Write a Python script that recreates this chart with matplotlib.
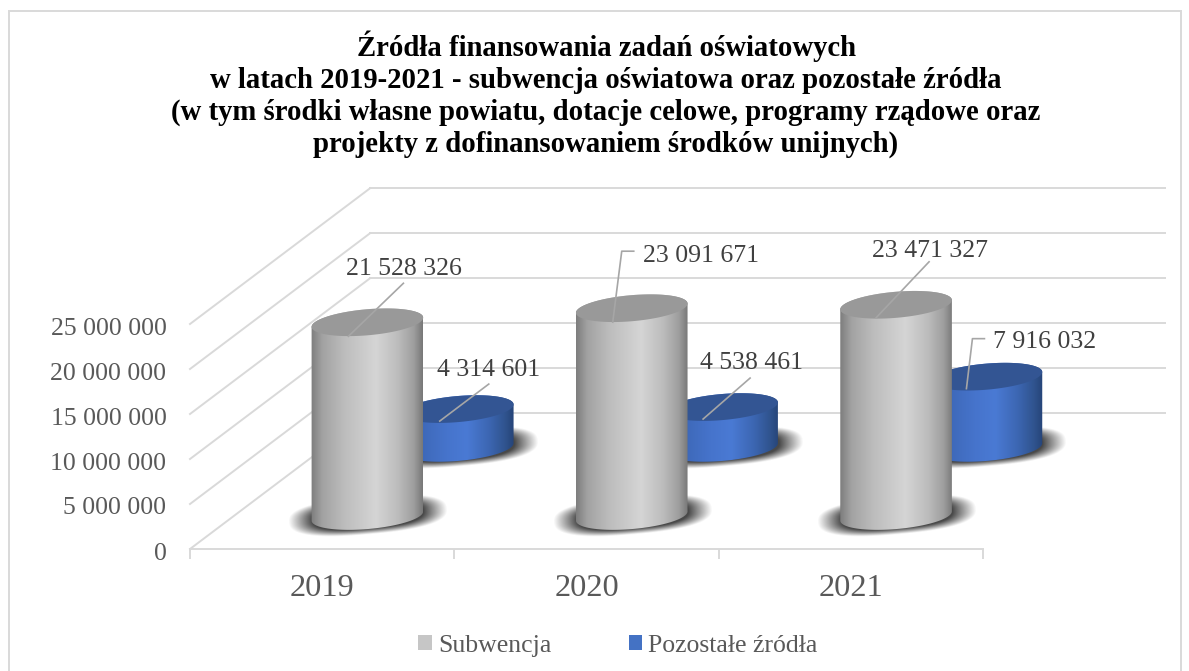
import numpy as np
import matplotlib
matplotlib.use("Agg")
import matplotlib.pyplot as plt
from matplotlib.colors import LinearSegmentedColormap
from matplotlib.patches import Patch, Polygon, Rectangle
from matplotlib.transforms import ScaledTranslation

years = ["2019", "2020", "2021"]
subwencja = [21528326, 23091671, 23471327]
pozostale = [4314601, 4538461, 7916032]
value_ticks = [0, 5000000, 10000000, 15000000, 20000000, 25000000]
title = ("Źródła finansowania zadań oświatowych\n"
         "w latach 2019-2021 - subwencja oświatowa oraz pozostałe źródła\n"
         "(w tym środki własne powiatu, dotacje celowe, programy rządowe oraz\n"
         "projekty z dofinansowaniem środków unijnych)")

W, H = 1189, 671
LEFT, RIGHT, BOTTOM, TOP = 190, 983, 549, 324  # plot box in pixels

plt.rcParams["font.family"] = ["Liberation Serif", "DejaVu Serif"]

fig = plt.figure(figsize=(W / 100, H / 100), dpi=100, facecolor="white")
ax = fig.add_axes([LEFT / W, 1 - BOTTOM / H, (RIGHT - LEFT) / W, (BOTTOM - TOP) / H])
ax.set_xlim(0, 3)
ax.set_ylim(0, 25000000)
ax.set_autoscale_on(False)
ax.patch.set_visible(False)

# size of one pixel in data units
PX = 3 / (RIGHT - LEFT)
PY = 25000000 / (BOTTOM - TOP)
DEPTH_X = 180 * PX
DEPTH_Y = 135.7 * PY
GRID = "#d9d9d9"


def fmt(v):
    return f"{v:,}".replace(",", " ")


def ellipse(cx, cy, t, a=56, b=13, tilt=np.radians(5)):
    # tilted ellipse around a point in data coords, a and b in pixels
    x = a * np.cos(t) * np.cos(tilt) - b * np.sin(t) * np.sin(tilt)
    y = a * np.cos(t) * np.sin(tilt) + b * np.sin(t) * np.cos(tilt)
    return np.column_stack([cx + x * PX, cy + y * PY])


def draw_shadow(cx, cy, z):
    # soft blob under a cylinder, rising to the right like the cylinder base
    xs = np.linspace(-100, 100, 200)
    ys = np.linspace(-35, 35, 100)
    gx, gy = np.meshgrid(xs, ys)
    tilt = np.radians(5)
    u = gx * np.cos(tilt) + gy * np.sin(tilt)
    w = -gx * np.sin(tilt) + gy * np.cos(tilt)
    r = (np.abs((u - 1) / 80) ** 2.6 + np.abs((w - 0.5) / 19) ** 2.6) ** (1 / 2.6)
    rgba = np.zeros((100, 200, 4))
    rgba[..., :3] = 0.22
    rgba[..., 3] = np.clip((1.0 - r) / 0.3, 0, 1) * 0.92
    im = ax.imshow(rgba, extent=(cx - 100 * PX, cx + 100 * PX, cy - 35 * PY, cy + 35 * PY),
                   origin="lower", aspect="auto", zorder=z, interpolation="bilinear")
    im.set_clip_box(fig.bbox)


def draw_cylinder(cx, base, value, cmap, top_color, z):
    top_y = base + value
    t0 = np.arctan2(-13 * np.sin(np.radians(5)), 56 * np.cos(np.radians(5)))
    lower = ellipse(cx, base, np.linspace(t0 + np.pi, t0 + 2 * np.pi, 80))
    upper = ellipse(cx, top_y, np.linspace(t0, t0 + np.pi, 80))
    body = Polygon(np.vstack([lower, upper]), closed=True, transform=ax.transData,
                   facecolor="none", edgecolor="none")
    ax.add_patch(body)
    body.set_clip_on(False)
    grad = np.linspace(0, 1, 256)[None, :]
    im = ax.imshow(grad, cmap=cmap, vmin=0, vmax=1, aspect="auto", zorder=z,
                   extent=(cx - 56 * PX, cx + 56 * PX, base - 20 * PY, top_y + 20 * PY),
                   interpolation="bilinear")
    im.set_clip_box(fig.bbox)
    im.set_clip_path(body)
    ax.add_patch(Polygon(ellipse(cx, top_y, np.linspace(0, 2 * np.pi, 160)), closed=True,
                         facecolor=top_color, edgecolor="none", zorder=z + 0.1, clip_on=False))


grey_map = LinearSegmentedColormap.from_list("grey3d", [
    (0, "#7d7d7d"), (0.1, "#a2a2a2"), (0.3, "#bdbdbd"), (0.58, "#d5d5d5"),
    (0.78, "#bcbcbc"), (0.92, "#9e9e9e"), (1, "#787878")])
blue_map = LinearSegmentedColormap.from_list("blue3d", [
    (0, "#2f5597"), (0.2, "#3f6abb"), (0.4, "#4674cc"), (0.58, "#4a7ad4"),
    (0.78, "#3c66b2"), (0.92, "#30548f"), (1, "#264478")])

# walls and floor
for v in value_ticks:
    ax.plot([0, DEPTH_X], [v, v + DEPTH_Y], color=GRID, lw=1.4, clip_on=False, zorder=1)
    ax.plot([DEPTH_X, (1165 - LEFT) * PX], [v + DEPTH_Y, v + DEPTH_Y], color=GRID, lw=1.4,
            clip_on=False, zorder=1)

# cylinders, blue row sits further back
GREY_DEPTH = 0.243
BLUE_DEPTH = 0.745
SHIFT = 1.5 * PX
centers = np.arange(len(years)) + 0.5
for i, c in enumerate(centers):
    bx, by = c + SHIFT + BLUE_DEPTH * DEPTH_X, BLUE_DEPTH * DEPTH_Y
    draw_shadow(bx, by, 2)
    draw_cylinder(bx, by, pozostale[i], blue_map, "#335593", 3)
    gx, gy = c + SHIFT + GREY_DEPTH * DEPTH_X, GREY_DEPTH * DEPTH_Y
    draw_shadow(gx, gy, 4)
    draw_cylinder(gx, gy, subwencja[i], grey_map, "#999999", 5)

# leader lines: pixel offsets from the cylinder top centre, text offset last
grey_leaders = [
    [(-19, -14), (36, 39)],
    [(-19, -14), (-10, 57), (2, 57)],
    [(-20, -13), (33, 43)],
]
grey_text = [(37, 53, "center"), (11, 52, "left"), (34, 54, "center")]
blue_leaders = [
    [(-18, -12), (31, 25)],
    [(-19, -12), (28, 29)],
    [(-20, -12), (-14, 38), (-2, 38)],
]
blue_text = [(31, 39, "center"), (29, 44, "center"), (7, 35, "left")]

for i, c in enumerate(centers):
    for values, depth, leaders, texts in ((subwencja, GREY_DEPTH, grey_leaders, grey_text),
                                          (pozostale, BLUE_DEPTH, blue_leaders, blue_text)):
        tx = c + SHIFT + depth * DEPTH_X
        ty = depth * DEPTH_Y + values[i]
        pts = leaders[i]
        ax.plot([tx + p[0] * PX for p in pts], [ty + p[1] * PY for p in pts],
                color="#a6a6a6", lw=1.2, clip_on=False, zorder=8)
        ox, oy, ha = texts[i]
        ax.annotate(fmt(values[i]), xy=(tx, ty), xytext=(ox * 0.72, oy * 0.72),
                    textcoords="offset points", ha=ha, va="center", fontsize=18.5,
                    color="#404040", zorder=9, annotation_clip=False)

# axes
for name in ("top", "left", "right"):
    ax.spines[name].set_visible(False)
ax.spines["bottom"].set_color(GRID)
ax.spines["bottom"].set_linewidth(1.4)
ax.set_yticks(value_ticks)
ax.set_yticklabels([fmt(v) for v in value_ticks], fontsize=18.5, color="#595959")
ax.tick_params(axis="y", length=0, pad=17)
nudge = ScaledTranslation(0, -2 / 100, fig.dpi_scale_trans)
for lab in ax.get_yticklabels():
    lab.set_transform(lab.get_transform() + nudge)
ax.set_xticks(centers)
ax.set_xticklabels(years, fontsize=23.3, color="#595959")
ax.tick_params(axis="x", which="major", length=0, pad=18)
ax.set_xticks([0, 1, 2, 3], minor=True)
ax.tick_params(axis="x", which="minor", length=7, width=1.4, color=GRID)

fig.text(606 / W, 1 - 94 / H, title, ha="center", va="center", fontsize=20.7,
         fontweight="bold", color="black", linespacing=1.23)

fig.add_artist(Rectangle((8.5 / W, -0.01), (1180.5 - 8.5) / W, 1.01 - 11 / H,
                         transform=fig.transFigure, facecolor="none",
                         edgecolor=GRID, lw=1.4))

handles = [Patch(facecolor="#c6c6c6", label="Subwencja"),
           Patch(facecolor="#4472c4", label="Pozostałe źródła")]
fig.legend(handles=handles, loc="center", bbox_to_anchor=(618 / W, 1 - 646 / H), ncol=2,
           frameon=False, fontsize=18.5, labelcolor="#595959", handlelength=0.52,
           handleheight=0.52, handletextpad=0.25, columnspacing=3.0)

fig.savefig("out.png", dpi=100)
